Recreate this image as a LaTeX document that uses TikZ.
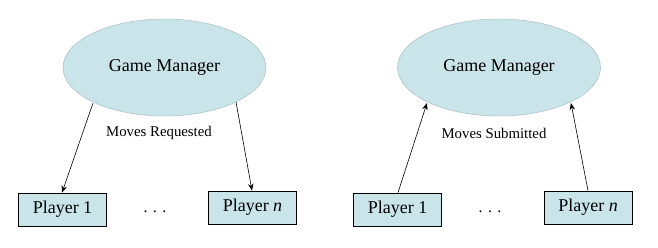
\documentclass[tikz,border=0pt]{standalone}
\usepackage{fontspec}
\setmainfont{Liberation Serif}
\usetikzlibrary{shapes.geometric,arrows.meta}
\definecolor{paleblue}{RGB}{202,229,233}
\definecolor{rimgray}{RGB}{170,190,195}
\tikzset{
  manager/.style={ellipse, fill=paleblue, draw=rimgray, line width=0.5pt,
    minimum width=203pt, minimum height=97pt, inner sep=0pt, font=\fontsize{18}{20}\selectfont},
  player/.style={rectangle, fill=paleblue, draw=black, line width=0.7pt,
    minimum width=88pt, minimum height=33pt, inner sep=0pt, font=\fontsize{18}{20}\selectfont},
  caption/.style={font=\fontsize{14.8}{16}\selectfont},
  ellipsis/.style={font=\fontsize{16}{18}\selectfont},
  flow/.style={draw=black, line width=0.6pt, -{Stealth[length=7pt,width=5.5pt]}}
}
\begin{document}
\begin{tikzpicture}[x=1pt,y=-1pt]
  \useasboundingbox (0,0) rectangle (658,247);

  % Requests sent out by the manager
  \node[manager] (gmL) at (164.5,67.5) {Game Manager};
  \node[caption] (reqL) at (159,133) {Moves Requested};
  \node[player] (p1L) at (62.5,209.5) {Player 1};
  \node[player] (pnL) at (252.5,207.5) {Player \textit{n}};
  \node[ellipsis] (dotsL) at (155,212) {.\,\,.\,\,.};
  \coordinate (aL1) at (93,103);
  \coordinate (aL2) at (236,102);
  \draw[flow] (aL1) -- (p1L.north -| 62,0);
  \draw[flow] (aL2) -- (pnL.north -| 252,0);

  % Moves submitted back to the manager
  \node[manager] (gmR) at (499,67.5) {Game Manager};
  \node[caption] (subR) at (494,133) {Moves Submitted};
  \node[player] (p1R) at (397.5,209.5) {Player 1};
  \node[player] (pnR) at (588,207.5) {Player \textit{n}};
  \node[ellipsis] (dotsR) at (490,212) {.\,\,.\,\,.};
  \coordinate (aR1) at (427,103);
  \coordinate (aR2) at (571,103);
  \draw[flow] (p1R.north -| 398,0) -- (aR1);
  \draw[flow] (pnR.north -| 588,0) -- (aR2);
\end{tikzpicture}
\end{document}
